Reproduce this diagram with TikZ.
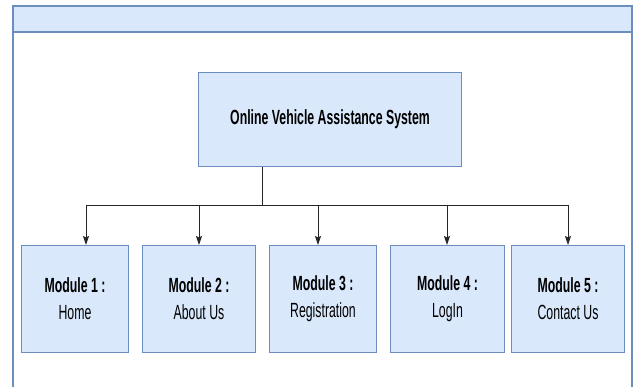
\documentclass[tikz,border=0pt]{standalone}
\usepackage{fontspec}
\setmainfont{Liberation Sans}[FakeStretch=0.6]
\usetikzlibrary{arrows.meta}

\definecolor{boxfill}{HTML}{DAE8FC}
\definecolor{boxline}{HTML}{6C8EBF}

\begin{document}
\begin{tikzpicture}[x=1pt, y=-1pt,
  frame/.style={draw=boxline, line width=1.1pt},
  modbox/.style={draw=boxline, fill=boxfill, line width=1pt, anchor=north west,
    inner sep=0pt, minimum height=107, align=center,
    font=\fontsize{20.5}{27}\selectfont},
  sysbox/.style={draw=boxline, fill=boxfill, line width=1pt, anchor=north west,
    inner sep=0pt, minimum width=263, minimum height=94,
    font=\fontsize{20.5}{24}\selectfont\bfseries},
  link/.style={line width=0.9pt, black!85},
  arr/.style={link, -{Stealth[length=9pt, width=6pt, inset=1.5pt]}}]
\useasboundingbox (0,0) rectangle (637,387);
\clip (0,0) rectangle (637,387);

% Outer frame with header strip
\draw[frame, fill=boxfill] (13,6) rectangle (632,32);
\draw[frame] (13,32) rectangle (632,400);

% Top node
\node[sysbox] (sys) at (198,72) {Online Vehicle Assistance System};

% Module nodes (bottom row)
\node[modbox, minimum width=107] (m1) at (21,245) {\textbf{Module 1 :}\\Home};
\node[modbox, minimum width=113] (m2) at (142,245) {\textbf{Module 2 :}\\About Us};
\node[modbox, minimum width=107] (m3) at (269,245) {\textbf{Module 3 :}\\Registration};
\node[modbox, minimum width=114] (m4) at (390,245) {\textbf{Module 4 :}\\LogIn};
\node[modbox, minimum width=113] (m5) at (511,245) {\textbf{Module 5 :}\\Contact Us};

% Bus points
\coordinate (bus) at (262,205);
\coordinate (j1) at (86,205);
\coordinate (j2) at (199,205);
\coordinate (j3) at (318,205);
\coordinate (j4) at (447,205);
\coordinate (j5) at (568,205);

% Edges
\draw[link] (sys.south -| bus) -- (bus);
\draw[link] (j1) -- (j5);
\draw[arr] (j1) -- (j1 |- m1.north);
\draw[arr] (j2) -- (j2 |- m2.north);
\draw[arr] (j3) -- (j3 |- m3.north);
\draw[arr] (j4) -- (j4 |- m4.north);
\draw[arr] (j5) -- (j5 |- m5.north);

\end{tikzpicture}
\end{document}
